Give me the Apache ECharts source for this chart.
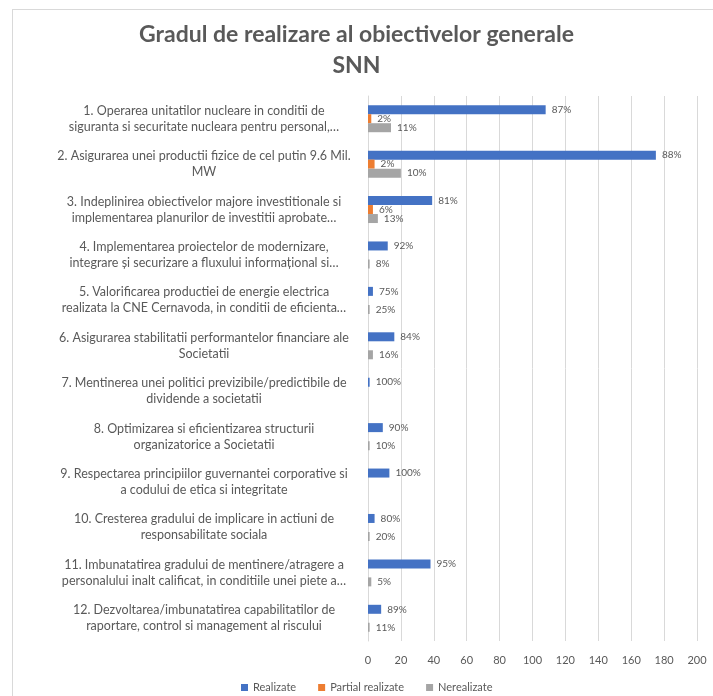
<!DOCTYPE html>
<html>
<head>
<meta charset="utf-8">
<script src="https://cdn.jsdelivr.net/npm/echarts@6/dist/echarts.min.js"></script>
<style>
  html, body { margin: 0; padding: 0; background: #ffffff; }
  #frame { position: absolute; left: 12px; top: 9px; width: 720px; height: 700px; border: 1px solid #d9d9d9; box-sizing: border-box; }
  #chart { position: absolute; left: 0; top: 0; width: 713px; height: 696px; }
</style>
</head>
<body>
<div id="frame"></div>
<div id="chart"></div>
<script>
const categories = [
  "1. Operarea unitatilor nucleare in conditii de\nsiguranta si securitate nucleara pentru personal,…",
  "2. Asigurarea unei productii fizice de cel putin 9.6 Mil.\nMW",
  "3. Indeplinirea obiectivelor majore investitionale si\nimplementarea planurilor de investitii aprobate…",
  "4. Implementarea proiectelor de modernizare,\nintegrare și securizare a fluxului informațional si…",
  "5. Valorificarea productiei de energie electrica\nrealizata la CNE Cernavoda, in conditii de eficienta…",
  "6. Asigurarea stabilitatii performantelor financiare ale\nSocietatii",
  "7. Mentinerea unei politici previzibile/predictibile de\ndividende a societatii",
  "8. Optimizarea si eficientizarea structurii\norganizatorice a Societatii",
  "9. Respectarea principiilor guvernantei corporative si\na codului de etica si integritate",
  "10. Cresterea gradului de implicare in actiuni de\nresponsabilitate sociala",
  "11. Imbunatatirea gradului de mentinere/atragere a\npersonalului inalt calificat, in conditiile unei piete a…",
  "12. Dezvoltarea/imbunatatirea capabilitatilor de\nraportare, control si management al riscului"
];
const realizate        = [108, 175, 39, 12, 3, 16, 1, 9, 13, 4, 38, 8];
const partialRealizate = [2, 4, 3, 0, 0, 0, 0, 0, 0, 0, 0, 0];
const nerealizate      = [14, 20, 6, 1, 1, 3, 0, 1, 0, 1, 2, 1];
const seriesNames = ["Realizate", "Partial realizate", "Nerealizate"];
const xTicks = { min: 0, max: 200, interval: 20 };

const totals = categories.map((_, i) => realizate[i] + partialRealizate[i] + nerealizate[i]);
const colors = ["#4472c4", "#ed7d31", "#a5a5a5"];
const txt = "#595959";
const font = "Lato";

function pctLabel(p) {
  if (!p.value) return "";
  return Math.round(p.value / totals[p.dataIndex] * 100) + "%";
}

function mkSeries(name, data, color) {
  return {
    name: name,
    type: "bar",
    data: data,
    barWidth: 9,
    barGap: "0%",
    itemStyle: { color: color },
    label: {
      show: true, position: "right", distance: 6,
      formatter: pctLabel,
      color: txt, fontFamily: font, fontSize: 10
    }
  };
}

const chart = echarts.init(document.getElementById("chart"));
chart.setOption({
  animation: false,
  title: {
    text: "Gradul de realizare al obiectivelor generale\nSNN",
    left: "center", top: 14,
    textStyle: { color: txt, fontFamily: font, fontSize: 23, fontWeight: "bold", lineHeight: 31 }
  },
  legend: {
    bottom: -2, left: 236,
    itemWidth: 7, itemHeight: 7, itemGap: 22,
    icon: "rect",
    textStyle: { color: txt, fontFamily: font, fontSize: 11 },
    data: seriesNames
  },
  grid: { left: 368, right: 16, top: 96, bottom: 55, containLabel: false },
  xAxis: {
    type: "value", min: xTicks.min, max: xTicks.max, interval: xTicks.interval,
    axisLine: { show: false },
    axisTick: { show: false },
    splitLine: { lineStyle: { color: "#d9d9d9" } },
    axisLabel: { color: txt, fontFamily: font, fontSize: 11, margin: 14 }
  },
  yAxis: {
    type: "category", inverse: true, data: categories,
    axisLine: { lineStyle: { color: "#d9d9d9" } },
    axisTick: { show: false },
    axisLabel: {
      margin: 8,
      formatter: function (v) { return "{c|" + v + "}"; },
      rich: { c: { width: 312, align: "center", color: txt, fontFamily: font, fontSize: 12.5, lineHeight: 16 } }
    }
  },
  series: [
    mkSeries(seriesNames[0], realizate, colors[0]),
    mkSeries(seriesNames[1], partialRealizate, colors[1]),
    mkSeries(seriesNames[2], nerealizate, colors[2])
  ]
});
</script>
</body>
</html>
